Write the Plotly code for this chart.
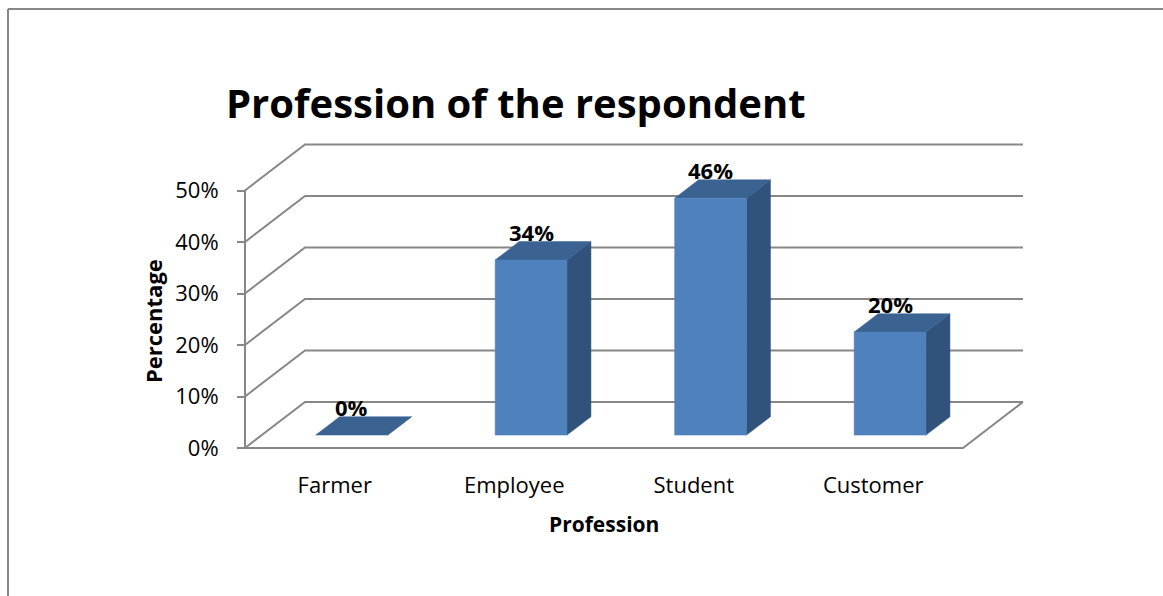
import plotly.graph_objects as go

# ---- data ----
categories = ["Farmer", "Employee", "Student", "Customer"]
values = [0, 34, 46, 20]
y_ticks = [0, 10, 20, 30, 40, 50]
y_tick_labels = ["0%", "10%", "20%", "30%", "40%", "50%"]

title_text = "Profession of the respondent"
x_title = "Profession"
y_title = "Percentage"

# ---- geometry of the pseudo-3D box ----
W, H = 1163, 596
X0_PX = 245        # pixel x of the front-left corner (category -0.5)
CAT_PX = 179.5     # pixels per category on the front plane
ZERO_PX = 448      # pixel y of 0% on the front plane
PCT_PX = 5.15      # pixels per percentage point
DX = 60 / CAT_PX   # depth offset in category units
DY = 46 / PCT_PX   # depth offset in percent units
HALF_W = 0.2       # half bar width (category units)
F0, F1 = 0.28, 0.68  # bar depth span as fraction of box depth

x_lo = -0.5 - X0_PX / CAT_PX
x_hi = x_lo + W / CAT_PX
y_lo = -(H - ZERO_PX) / PCT_PX
y_hi = y_lo + H / PCT_PX

FONT = "Open Sans"
WALL = "#878787"
FRONT = "#4F81BD"
SIDE = "#31527B"
TOP = "#3B6392"

n = len(categories)
x_left, x_right = -0.5, n - 0.5
y_max = max(y_ticks)

fig = go.Figure()

# back wall gridlines + left wall diagonals
wx, wy = [], []
for v in y_ticks:
    wx += [x_left, x_left + DX, x_right + DX, None]
    wy += [v, v + DY, v + DY, None]
# floor front and right edges
wx += [x_left, x_right, x_right + DX, None]
wy += [0, 0, DY, None]
# front vertical axis line
wx += [x_left, x_left, None]
wy += [0, y_max, None]
fig.add_trace(go.Scatter(x=wx, y=wy, mode="lines",
                         line=dict(color=WALL, width=2),
                         hoverinfo="skip", showlegend=False))


def face(xs, ys, color):
    fig.add_trace(go.Scatter(x=xs + [xs[0]], y=ys + [ys[0]], mode="lines",
                             fill="toself", fillcolor=color,
                             line=dict(color=color, width=0.5),
                             hoverinfo="skip", showlegend=False))


annotations = []
for i, (cat, v) in enumerate(zip(categories, values)):
    xa = i - HALF_W + F0 * DX
    xb = i + HALF_W + F0 * DX
    ya = F0 * DY
    xc = i + HALF_W + F1 * DX
    xd = i - HALF_W + F1 * DX
    yb = F1 * DY
    # right side
    face([xb, xc, xc, xb], [ya, yb, v + yb, v + ya], SIDE)
    # top
    face([xa, xb, xc, xd], [v + ya, v + ya, v + yb, v + yb], TOP)
    # front
    if v > 0:
        face([xa, xb, xb, xa], [ya, ya, v + ya, v + ya], FRONT)
    annotations.append(dict(
        x=i + F0 * DX, y=v + F0 * DY, xref="x", yref="y",
        text=f"<b>{v}%</b>", showarrow=False, yanchor="middle", yshift=28,
        font=dict(family=FONT, size=22, color="black")))

# axis titles and chart title
annotations.append(dict(
    x=(X0_PX + n * CAT_PX / 2) / W, y=1 - 524 / H, xref="paper", yref="paper",
    text=f"<b>{x_title}</b>", showarrow=False, xanchor="center", yanchor="middle",
    font=dict(family=FONT, size=21, color="black")))
annotations.append(dict(
    x=153 / W, y=1 - 321 / H, xref="paper", yref="paper", textangle=-90,
    text=f"<b>{y_title}</b>", showarrow=False, xanchor="center", yanchor="middle",
    font=dict(family=FONT, size=22, color="black")))
annotations.append(dict(
    x=224 / W, y=1 - 102 / H, xref="paper", yref="paper",
    text=f"<b>{title_text}</b>", showarrow=False, xanchor="left", yanchor="middle",
    font=dict(family=FONT, size=40, color="black")))

# outer frame (top and left edges)
shapes = [
    dict(type="line", xref="paper", yref="paper", x0=8 / W, x1=1.0,
         y0=1 - 9 / H, y1=1 - 9 / H, line=dict(color=WALL, width=2)),
    dict(type="line", xref="paper", yref="paper", x0=8 / W, x1=8 / W,
         y0=1 - 9 / H, y1=0, line=dict(color=WALL, width=2)),
]

fig.update_layout(
    width=W, height=H,
    margin=dict(l=0, r=0, t=0, b=0, pad=0),
    paper_bgcolor="white", plot_bgcolor="white",
    annotations=annotations, shapes=shapes,
    xaxis=dict(range=[x_lo, x_hi], anchor="free", position=(H - ZERO_PX) / H,
               tickvals=list(range(n)), ticktext=categories,
               showgrid=False, zeroline=False, showline=False,
               ticks="", ticklabelstandoff=22,
               tickfont=dict(family=FONT, size=22, color="black")),
    yaxis=dict(range=[y_lo, y_hi], anchor="free", position=X0_PX / W,
               tickvals=y_ticks, ticktext=y_tick_labels,
               showgrid=False, zeroline=False, showline=False,
               ticks="outside", ticklen=8, tickwidth=2, tickcolor=WALL,
               ticklabelstandoff=14,
               tickfont=dict(family=FONT, size=22, color="black")),
)

fig.write_html("out.html")
